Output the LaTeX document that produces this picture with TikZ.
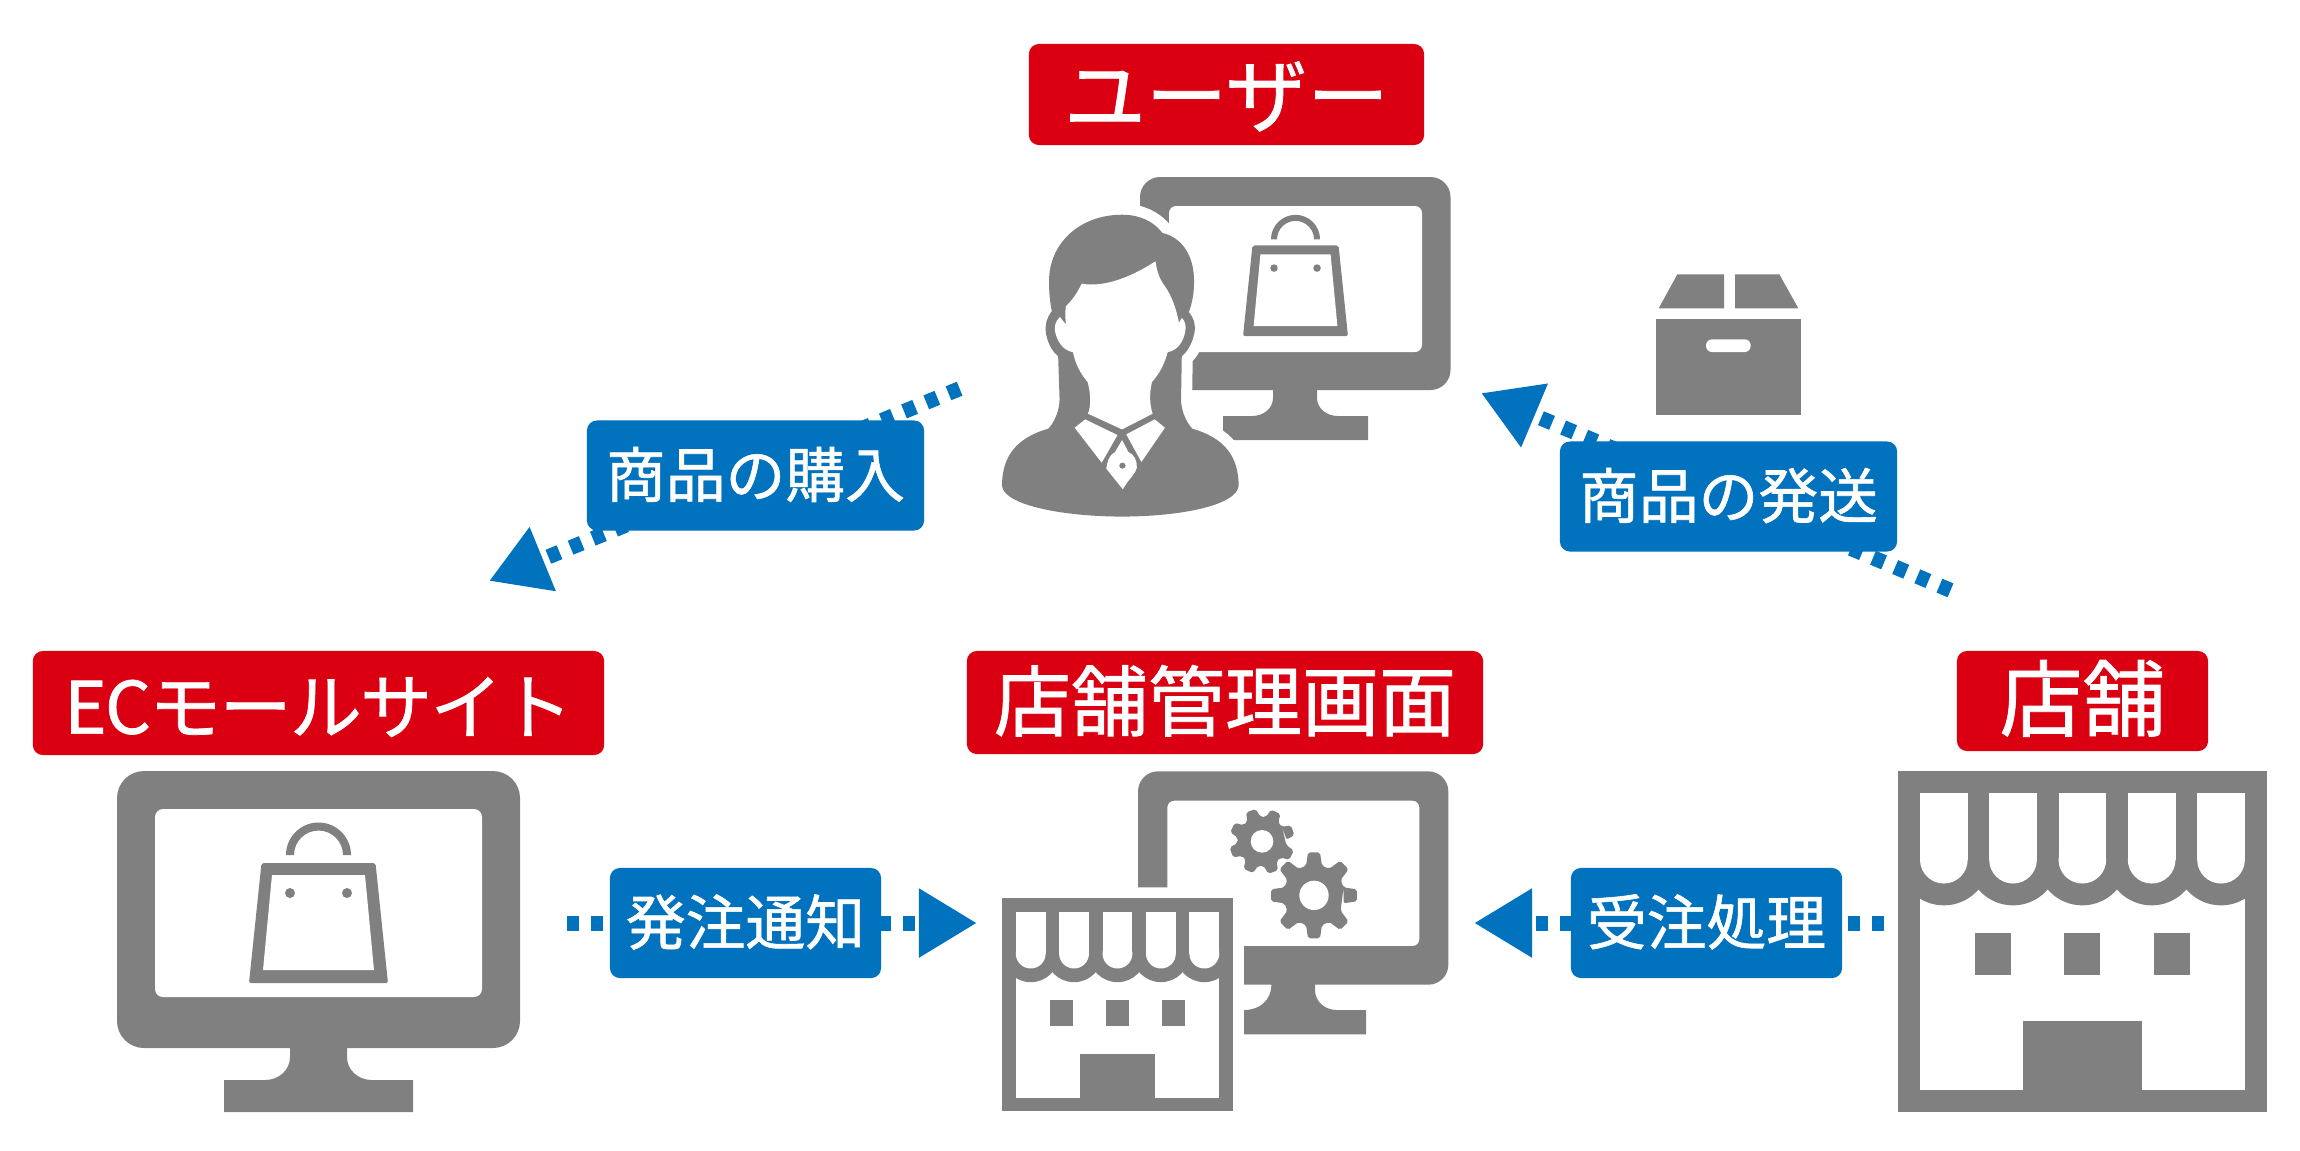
\documentclass[tikz,border=0pt]{standalone}
\usepackage{fontspec}
\setmainfont{Noto Sans CJK JP}
\newfontfamily\jpfont[FakeBold=1]{Noto Sans CJK JP}
\newfontfamily\jpectight[LetterSpace=-2.5,FakeBold=1]{Noto Sans CJK JP}
\usetikzlibrary{arrows.meta}
\definecolor{iconGray}{HTML}{808080}
\definecolor{labelRed}{HTML}{DA0012}
\definecolor{labelBlue}{HTML}{0072BE}
\tikzset{
  icon/.style={fill=iconGray,draw=none},
  hole/.style={fill=white,draw=none},
  redlabel/.style={fill=labelRed,text=white,rounded corners=0.1cm,inner sep=0pt,align=center,
    text height=20.4pt,text depth=2.4pt,font=\jpfont\fontsize{22.76pt}{26pt}\selectfont},
  bluelabel/.style={fill=labelBlue,text=white,rounded corners=0.1cm,inner sep=0pt,align=center,
    minimum height=1.1cm,text height=15.3pt,text depth=3pt,font=\jpfont\fontsize{17pt}{20pt}\selectfont},
  flowline/.style={draw=labelBlue,line width=0.15cm,dash pattern=on 0.12cm off 0.12cm,
    -{Triangle[length=0.58cm,width=0.65cm,color=labelBlue]}},
}
% bottom-centre x, bottom y, scale
\newcommand\shopbag[3]{%
  \begin{scope}[shift={(#1,#2)},x=#3*0.01cm,y=-#3*0.01cm]
    \fill[icon,rounded corners=0.02cm] (-57,-120) -- (57,-120) -- (69.5,0) -- (-69.5,0) -- cycle;
    \fill[hole] (-46.5,-108) -- (46.5,-108) -- (55.5,-13) -- (-55.5,-13) -- cycle;
    \fill[icon] (-28.5,-90) circle[radius=5];
    \fill[icon] (28.5,-90) circle[radius=5];
    \fill[icon] (-32.5,-128) arc[start angle=180,end angle=360,radius=32.5]
       -- (24.5,-128) arc[start angle=360,end angle=180,radius=24.5] -- cycle;
  \end{scope}}
% store icon: top-left x, top-left y, scale
\newcommand\storefront[3]{%
  \begin{scope}[shift={(#1,#2)},x=#3*0.01cm/3,y=-#3*0.01cm/3,shift={(-54,-394)}]
    \fill[icon] (54,394) rectangle (1160,1416);
    \fill[hole] (120,660) rectangle (1095,1351);
    \foreach \cx in {191.5,399,607,815,1023}{
      \fill[icon] (\cx,660) circle[radius=137];
    }
    \fill[icon] (54,394) rectangle (1160,660);
    \fill[icon] (54,660) rectangle (120,778);
    \fill[icon] (1095,660) rectangle (1160,778);
    \foreach \cx in {191.5,399,607,815,1023}{
      \fill[hole] (\cx-71.5,459) rectangle (\cx+71.5,660);
      \fill[hole] (\cx,660) circle[radius=71.5];
    }
    \foreach \wx in {285,553,821}{
      \fill[icon] (\wx,881) rectangle (\wx+108,1007);
    }
    \fill[icon] (428,1143) rectangle (786,1351);
  \end{scope}}
\begin{document}
\begin{tikzpicture}[x=0.01cm,y=-0.01cm]
\path[use as bounding box,fill=white] (0,0) rectangle (2300,1150);

% connector ends
\coordinate (userOut) at (959.6,388.7);
\coordinate (ecIn) at (489,581);
\coordinate (storeOutUser) at (1950.5,590.3);
\coordinate (userIn) at (1481,393);
\coordinate (ecOut) at (567,923);
\coordinate (adminInLeft) at (977,923);
\coordinate (storeOutAdmin) at (1884,923);
\coordinate (adminInRight) at (1474,923);

\draw[flowline] (userOut) -- (ecIn);
\draw[flowline] (storeOutUser) -- (userIn);
\draw[flowline] (ecOut) -- (adminInLeft);
\draw[flowline] (storeOutAdmin) -- (adminInRight);

% EC monitor
\fill[icon] (117,771) [rounded corners=0.27cm] rectangle (520,1048);
\fill[hole] (155,809) [rounded corners=0.08cm] rectangle (482,997);
\fill[icon] (290,1040) -- (290,1057) .. controls (290,1070) and (279,1080) .. (265,1080) -- (224,1080) -- (224,1112)
  -- (413,1112) -- (413,1080) -- (372,1080) .. controls (358,1080) and (347,1070) .. (347,1057) -- (347,1040) -- cycle;
\shopbag{318.5}{983}{1}

% user monitor
\fill[icon] (1140,177) [rounded corners=0.2cm] rectangle (1450.5,390);
\fill[hole] (1169,206) [rounded corners=0.07cm] rectangle (1422,352);
\fill[icon] (1273,385) -- (1273,398) .. controls (1273,408) and (1264,416) .. (1252,416) -- (1223,416) -- (1223,440)
  -- (1368,440) -- (1368,416) -- (1338,416) .. controls (1326,416) and (1317,408) .. (1317,398) -- (1317,385) -- cycle;
\shopbag{1295.5}{336}{0.755}

% person
\begin{scope}[shift={(950,30)},x=0.003508cm,y=-0.003333cm]
  \fill[icon,preaction={draw=white,line width=0.22cm,line join=round}]
    (490,555) .. controls (540,555) and (580,575) .. (605,610)
    .. controls (650,620) and (695,665) .. (695,755)
    .. controls (695,790) and (690,820) .. (680,848)
    .. controls (695,865) and (700,885) .. (696,910)
    .. controls (690,940) and (678,965) .. (660,980)
    -- (658,1110) .. controls (658,1140) and (670,1175) .. (690,1198)
    .. controls (780,1225) and (822,1280) .. (822,1370)
    .. controls (815,1430) and (650,1462) .. (490,1462)
    .. controls (330,1462) and (155,1430) .. (148,1370)
    .. controls (148,1280) and (190,1225) .. (280,1198)
    .. controls (300,1175) and (312,1140) .. (312,1110)
    -- (308,980) .. controls (290,965) and (278,940) .. (273,910)
    .. controls (270,885) and (275,865) .. (290,845)
    .. controls (285,820) and (282,790) .. (282,755)
    .. controls (282,640) and (370,555) .. (490,555) -- cycle;
  \fill[hole] (375,762) .. controls (440,775) and (520,740) .. (585,695)
    .. controls (590,730) and (598,750) .. (612,770)
    .. controls (632,800) and (645,840) .. (652,880) -- (660,865)
    .. controls (670,875) and (673,890) .. (670,905)
    .. controls (665,935) and (650,962) .. (620,968)
    .. controls (610,1005) and (598,1030) .. (575,1058)
    .. controls (568,1090) and (568,1125) .. (577,1153)
    -- (490,1200) -- (393,1153)
    .. controls (403,1125) and (400,1090) .. (392,1058)
    .. controls (370,1030) and (358,1005) .. (350,968)
    .. controls (320,962) and (305,935) .. (299,905)
    .. controls (297,890) and (300,875) .. (313,862)
    -- (330,885) .. controls (328,860) and (328,845) .. (330,830)
    .. controls (350,810) and (365,785) .. (375,762) -- cycle;
  \fill[hole] (385,1170) -- (477,1217) -- (432,1300) -- (355,1195) -- cycle;
  \fill[hole] (583,1170) -- (502,1215) -- (545,1298) -- (612,1195) -- cycle;
  \fill[hole] (490,1232) -- (508,1268) .. controls (525,1275) and (533,1295) .. (532,1315)
    .. controls (528,1335) and (515,1340) .. (492,1380) -- (445,1318)
    .. controls (448,1300) and (450,1280) .. (470,1268) -- cycle;
  \fill[icon] (491,1309) circle[radius=9];
\end{scope}

% parcel
\begin{scope}[shift={(1470,260)},x=0.01cm/3,y=-0.01cm/3]
  \fill[icon] (622,43) -- (762,43) -- (762,145) -- (566,145) -- cycle;
  \fill[icon] (795,43) -- (928,43) -- (985,145) -- (795,145) -- cycle;
  \fill[icon] (558,178) rectangle (992,464);
  \fill[hole,rounded corners=0.06cm] (708,238) rectangle (842,276);
\end{scope}

% admin monitor with gears
\begin{scope}[shift={(960,640)},x=0.01cm/3,y=-0.01cm/3]
  \fill[icon] (534,742) -- (534,454) .. controls (534,421) and (561,394) .. (594,394)
    -- (1405,394) .. controls (1438,394) and (1465,421) .. (1465,454)
    -- (1465,974) .. controls (1465,1007) and (1438,1034) .. (1405,1034)
    -- (1065,1034) -- (1065,1050) .. controls (1065,1085) and (1095,1110) .. (1130,1110)
    -- (1218,1110) -- (1218,1183) -- (852,1183) -- (852,1110)
    .. controls (900,1110) and (934,1080) .. (934,1034)
    -- (852,1034) -- (852,918) -- (1358,918) .. controls (1369,918) and (1378,909) .. (1378,898)
    -- (1378,502) .. controls (1378,491) and (1369,482) .. (1358,482)
    -- (642,482) .. controls (631,482) and (622,491) .. (622,502) -- (622,742) -- cycle;
  \fill[icon,rounded corners=0.02cm] ([shift={(906,604)}]-20-16:74)
    \foreach \a in {-20,-65,...,-335}{
      -- ([shift={(906,604)}]\a+16:74) -- ([shift={(906,604)}]\a+9:99) -- ([shift={(906,604)}]\a-9:99) -- ([shift={(906,604)}]\a-16:74)
    } -- cycle;
  \fill[hole] (906,604) circle[radius=34];
  \fill[icon,rounded corners=0.02cm] ([shift={(1062,766)}]0-15:92)
    \foreach \a in {0,-45,...,-315}{
      -- ([shift={(1062,766)}]\a+15:92) -- ([shift={(1062,766)}]\a+8:130) -- ([shift={(1062,766)}]\a-8:130) -- ([shift={(1062,766)}]\a-15:92)
    } -- cycle;
  \fill[hole] (1062,766) circle[radius=44];
\end{scope}

\storefront{1002}{898}{0.6265}
\storefront{1898}{771}{1}

% labels
\node[redlabel,minimum width=3.95cm,minimum height=1.01cm] (userLabel) at (1226.5,94.5)
  {\fontsize{23.2pt}{26pt}\selectfont ユーザー};
\node[redlabel,minimum width=5.71cm,minimum height=1.04cm,text depth=3pt] (ecLabel) at (318.5,703)
  {\jpectight\fontsize{20.5pt}{24pt}\selectfont ECモールサイト};
\node[redlabel,minimum width=5.16cm,minimum height=1.03cm,text depth=4.7pt] (adminLabel) at (1225,702.5)
  {\fontsize{21.9pt}{26pt}\selectfont 店舗管理画面};
\node[redlabel,minimum width=2.51cm,minimum height=1.0cm,text depth=4pt] (storeLabel) at (2082.5,701)
  {\fontsize{23.6pt}{26pt}\selectfont 店舗};

\node[bluelabel,minimum width=3.37cm] (buyLabel) at (755.5,475.5) {商品の購入};
\node[bluelabel,minimum width=3.37cm] (shipLabel) at (1728.5,496.5) {商品の発送};
\node[bluelabel,minimum width=2.71cm] (notifyLabel) at (745.5,923) {発注通知};
\node[bluelabel,minimum width=2.71cm] (orderLabel) at (1706.5,923) {受注処理};
\end{tikzpicture}
\end{document}
